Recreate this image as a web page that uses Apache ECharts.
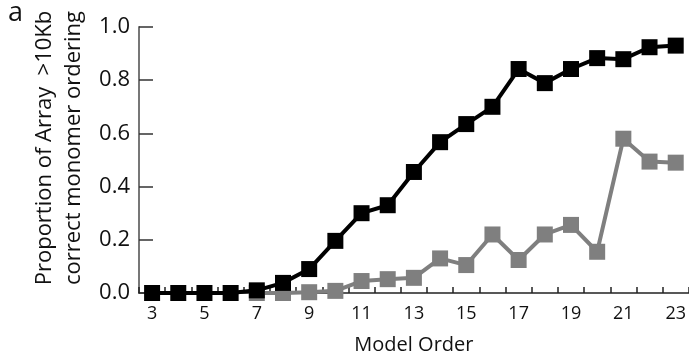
<!DOCTYPE html>
<html>
<head>
<meta charset="utf-8">
<script src="https://cdn.jsdelivr.net/npm/echarts@6/dist/echarts.min.js"></script>
<style>
  html, body { margin: 0; padding: 0; background: #fff; }
  #chart { width: 689px; height: 362px; }
</style>
</head>
<body>
<div id="chart"></div>
<script>
// Model orders on the x axis
const modelOrders = ['3','4','5','6','7','8','9','10','11','12','13','14','15','16','17','18','19','20','21','22','23'];

// Proportion of arrays >10Kb with correct monomer ordering
const blackSeries = [0, 0, 0, 0, 0.01, 0.038, 0.09, 0.196, 0.30, 0.33, 0.455, 0.567, 0.635, 0.70, 0.842, 0.789, 0.842, 0.883, 0.879, 0.924, 0.93];
const graySeries  = [null, null, null, null, 0, 0, 0.003, 0.008, 0.045, 0.052, 0.057, 0.13, 0.105, 0.22, 0.124, 0.22, 0.256, 0.155, 0.58, 0.494, 0.49];

const yTicks = [0, 0.2, 0.4, 0.6, 0.8, 1.0];

const FONT = '"Open Sans", "Noto Sans", sans-serif';
const chart = echarts.init(document.getElementById('chart'), null, { renderer: 'canvas' });

chart.setOption({
  animation: false,
  backgroundColor: '#ffffff',
  textStyle: { fontFamily: FONT },
  grid: { left: 139, right: 0, top: 27, bottom: 69 },
  xAxis: {
    type: 'category',
    data: modelOrders,
    boundaryGap: true,
    name: 'Model Order',
    nameLocation: 'middle',
    nameGap: 42,
    nameTextStyle: { fontSize: 20, color: '#111', fontFamily: FONT },
    axisLine: { lineStyle: { color: '#222', width: 1.5 } },
    axisTick: { show: true, inside: true, length: 6, interval: 0, lineStyle: { color: '#222', width: 1.5 } },
    axisLabel: { interval: 1, fontSize: 18, color: '#111', margin: 12, fontFamily: FONT },
    splitLine: { show: false }
  },
  yAxis: {
    type: 'value',
    min: yTicks[0],
    max: yTicks[yTicks.length - 1],
    interval: 0.2,
    name: 'Proportion of Array  >10Kb\ncorrect monomer ordering',
    nameLocation: 'middle',
    nameGap: 50,
    nameTextStyle: { fontSize: 22, color: '#111', lineHeight: 29, fontFamily: FONT, padding: [0, 0, 0, 24] },
    axisLine: { show: true, lineStyle: { color: '#777', width: 2 } },
    axisTick: { show: true, inside: true, length: 14, lineStyle: { color: '#333', width: 1.5 } },
    axisLabel: { fontSize: 22, color: '#111', margin: 9, fontFamily: FONT, formatter: v => v.toFixed(1) },
    splitLine: { show: false }
  },
  graphic: [{
    type: 'text', left: 8, top: 0,
    style: { text: 'a', fontSize: 27, fill: '#111', fontFamily: FONT }
  }],
  series: [
    {
      type: 'line',
      data: graySeries,
      symbol: 'rect',
      symbolSize: 16,
      lineStyle: { color: '#7f7f7f', width: 4 },
      itemStyle: { color: '#7f7f7f' },
      z: 2
    },
    {
      type: 'line',
      data: blackSeries,
      symbol: 'rect',
      symbolSize: 16,
      lineStyle: { color: '#000', width: 4 },
      itemStyle: { color: '#000' },
      z: 3
    }
  ]
});
</script>
</body>
</html>
